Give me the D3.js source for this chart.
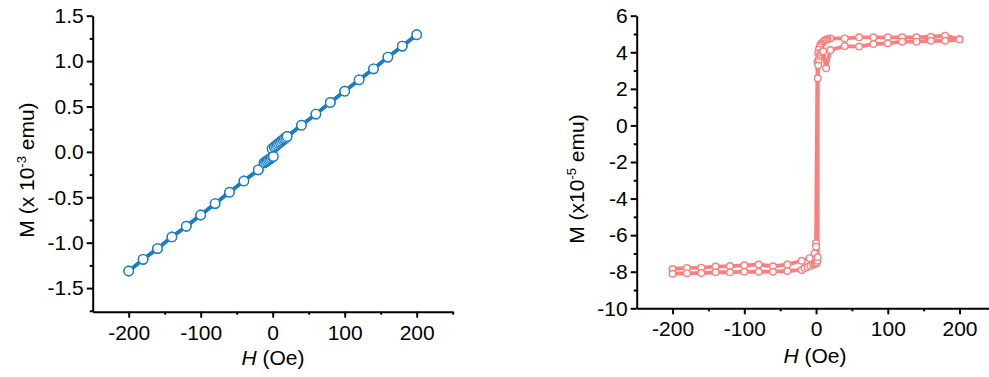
<!DOCTYPE html>
<html>
<head>
<meta charset="utf-8">
<script src="https://cdn.jsdelivr.net/npm/d3@7"></script>
<style>
  body { margin: 0; background: #fff; }
  svg { display: block; font-family: "Liberation Sans", Arial, sans-serif; }
</style>
</head>
<body>
<svg id="chart" width="989" height="377"></svg>
<script>
// left panel: M in 1e-3 emu, two sweep branches
const leftDescH = [200, 180, 160, 140, 120, 100, 80, 60, 40, 20, 18, 16, 14, 12, 10, 8, 6, 4, 2, 0, -1,
  -2, -4, -6, -8, -10, -12, -20, -40, -60, -80, -100, -120, -140, -160, -180, -200];
const leftDescM = [1.29, 1.165, 1.044, 0.915, 0.794, 0.669, 0.545, 0.416, 0.294, 0.170, 0.157, 0.144, 0.131, 0.118, 0.105, 0.092, 0.079, 0.066, 0.053, 0.040, 0.034,
  -0.066, -0.077, -0.088, -0.099, -0.110, -0.121, -0.198, -0.320, -0.444, -0.569, -0.695, -0.819, -0.937, -1.065, -1.183, -1.312];
const leftAscH = [-200, -180, -160, -140, -120, -100, -80, -60, -40, -20, -12, -10, -8, -6, -4, -2, 0, 1,
  2, 4, 6, 8, 10, 12, 14, 16, 18, 20, 40, 60, 80, 100, 120, 140, 160, 180, 200];
const leftAscM = [-1.312, -1.183, -1.065, -0.937, -0.819, -0.695, -0.569, -0.444, -0.320, -0.198, -0.121, -0.110, -0.099, -0.088, -0.077, -0.066, -0.055, -0.050,
  0.053, 0.066, 0.079, 0.092, 0.105, 0.118, 0.131, 0.144, 0.157, 0.170, 0.294, 0.416, 0.545, 0.669, 0.794, 0.915, 1.044, 1.165, 1.29];

// right panel: M in 1e-5 emu
const rightDescH = [200, 180, 160, 140, 120, 100, 80, 60, 40, 20, 16, 14, 12, 10, 8, 7, 6, 5, 4, 3, 2,
  0, 0, -2, -9, -20, -40, -60, -80, -100, -120, -140, -160, -180, -200];
const rightDescM = [4.71, 4.91, 4.85, 4.82, 4.82, 4.82, 4.82, 4.82, 4.76, 4.76, 4.72, 4.68, 4.64, 4.58, 4.50, 4.45, 4.38, 4.28, 4.15, 3.95, 3.50,
  -6.44, -6.63, -7.0, -7.26, -7.40, -7.61, -7.70, -7.61, -7.65, -7.69, -7.72, -7.78, -7.79, -7.85];
const rightAscH = [-200, -180, -160, -140, -120, -100, -80, -60, -40, -20, -16, -12, -8, -4, -2, 0, 1, 2, 2.3,
  2.4, 3, 4, 5, 6, 8, 10, 14, 20, 40, 60, 80, 100, 120, 140, 160, 180, 200];
const rightAscM = [-8.11, -8.08, -8.07, -8.03, -8.03, -8.00, -8.00, -8.00, -7.96, -7.90, -7.80, -7.74, -7.68, -7.62, -7.58, -7.55, -7.50, -7.40, -7.20,
  2.58, 3.3, 3.6, 3.8, 3.9, 4.0, 4.05, 3.12, 4.12, 4.34, 4.31, 4.45, 4.49, 4.58, 4.58, 4.63, 4.63, 4.71];

const xTicks = [-200, -100, 0, 100, 200];
const xMinor = [-150, -50, 50, 150, 250];
const leftYTicks = [-1.5, -1.0, -0.5, 0.0, 0.5, 1.0, 1.5];
const leftYMinor = [-1.75, -1.25, -0.75, -0.25, 0.25, 0.75, 1.25];
const rightYTicks = [-10, -8, -6, -4, -2, 0, 2, 4, 6];
const rightYMinor = [-9, -7, -5, -3, -1, 1, 3, 5];

const svg = d3.select("#chart");
const fontSize = 21;

// plain hyphen for negatives, like the original figure
const hyphen = f => d => f(d).replace("\u2212", "-");

function panel(o) {
  const x = d3.scaleLinear().domain([-250, 250]).range(o.xRange);
  const y = d3.scaleLinear().domain(o.yDomain).range(o.yRange);
  const g = svg.append("g");

  const branches = [
    o.desc[0].map((h, i) => [h, o.desc[1][i]]),
    o.asc[0].map((h, i) => [h, o.asc[1][i]])
  ];
  const line = d3.line().x(d => x(d[0])).y(d => y(d[1]));

  branches.forEach(pts => {
    g.append("path")
      .attr("d", line(pts))
      .attr("fill", "none")
      .attr("stroke", o.color)
      .attr("stroke-width", o.lineWidth)
      .attr("stroke-linejoin", "round");
  });
  branches.forEach(pts => {
    g.append("g").selectAll("circle")
      .data(pts)
      .join("circle")
      .attr("cx", d => x(d[0]))
      .attr("cy", d => y(d[1]))
      .attr("r", o.r)
      .attr("fill", "#fff")
      .attr("stroke", o.color)
      .attr("stroke-width", 1.4);
  });

  // axes
  const y0 = o.yRange[0];
  g.append("g").attr("transform", `translate(0,${y0})`)
    .call(d3.axisBottom(x).tickValues(xTicks).tickFormat(hyphen(d3.format("d"))).tickSize(6).tickSizeOuter(0).tickPadding(7));
  g.append("g").attr("transform", `translate(0,${y0})`)
    .call(d3.axisBottom(x).tickValues(xMinor).tickFormat("").tickSize(3))
    .select(".domain").remove();

  g.append("g").attr("transform", `translate(${o.xRange[0]},0)`)
    .call(d3.axisLeft(y).tickValues(o.yTicks).tickFormat(hyphen(o.yFormat)).tickSize(6).tickSizeOuter(0).tickPadding(3));
  g.append("g").attr("transform", `translate(${o.xRange[0]},0)`)
    .call(d3.axisLeft(y).tickValues(o.yMinor).tickFormat("").tickSize(3))
    .select(".domain").remove();

  g.selectAll(".domain, .tick line").attr("stroke", "#000").attr("stroke-width", 2);
  g.selectAll(".tick text").attr("font-size", fontSize).attr("fill", "#000")
    .attr("font-family", "'Liberation Sans', Arial, sans-serif");

  // axis titles
  const xt = g.append("text")
    .attr("x", o.xTitle[0]).attr("y", o.xTitle[1])
    .attr("text-anchor", "middle").attr("font-size", fontSize);
  xt.append("tspan").attr("font-style", "italic").text("H");
  xt.append("tspan").text(" (Oe)");

  const yt = g.append("text")
    .attr("transform", `translate(${o.yTitle[0]},${o.yTitle[1]}) rotate(-90)`)
    .attr("text-anchor", "middle").attr("font-size", fontSize);
  yt.append("tspan").text(o.yLabel[0]);
  yt.append("tspan").attr("font-size", 13).attr("dy", -8).text(o.yLabel[1]);
  yt.append("tspan").attr("dy", 8).text(o.yLabel[2]);
}

panel({
  xRange: [92.7, 452.7],
  yDomain: [-1.76, 1.5],
  yRange: [311.7, 15.7],
  yTicks: leftYTicks,
  yMinor: leftYMinor,
  yFormat: d3.format(".1f"),
  desc: [leftDescH, leftDescM],
  asc: [leftAscH, leftAscM],
  color: "#1b7dc3",
  lineWidth: 3.6,
  r: 4.7,
  xTitle: [273, 365],
  yTitle: [34, 170],
  yLabel: ["M (x 10", "-3", " emu)"]
});

panel({
  xRange: [636.7, 995.4],
  yDomain: [-10, 6],
  yRange: [308.3, 15.7],
  yTicks: rightYTicks,
  yMinor: rightYMinor,
  yFormat: d3.format("d"),
  desc: [rightDescH, rightDescM],
  asc: [rightAscH, rightAscM],
  color: "#fa7f7f",
  lineWidth: 3.8,
  r: 3.3,
  xTitle: [815, 363],
  yTitle: [584, 179],
  yLabel: ["M (x10", "-5", " emu)"]
});
</script>
</body>
</html>
